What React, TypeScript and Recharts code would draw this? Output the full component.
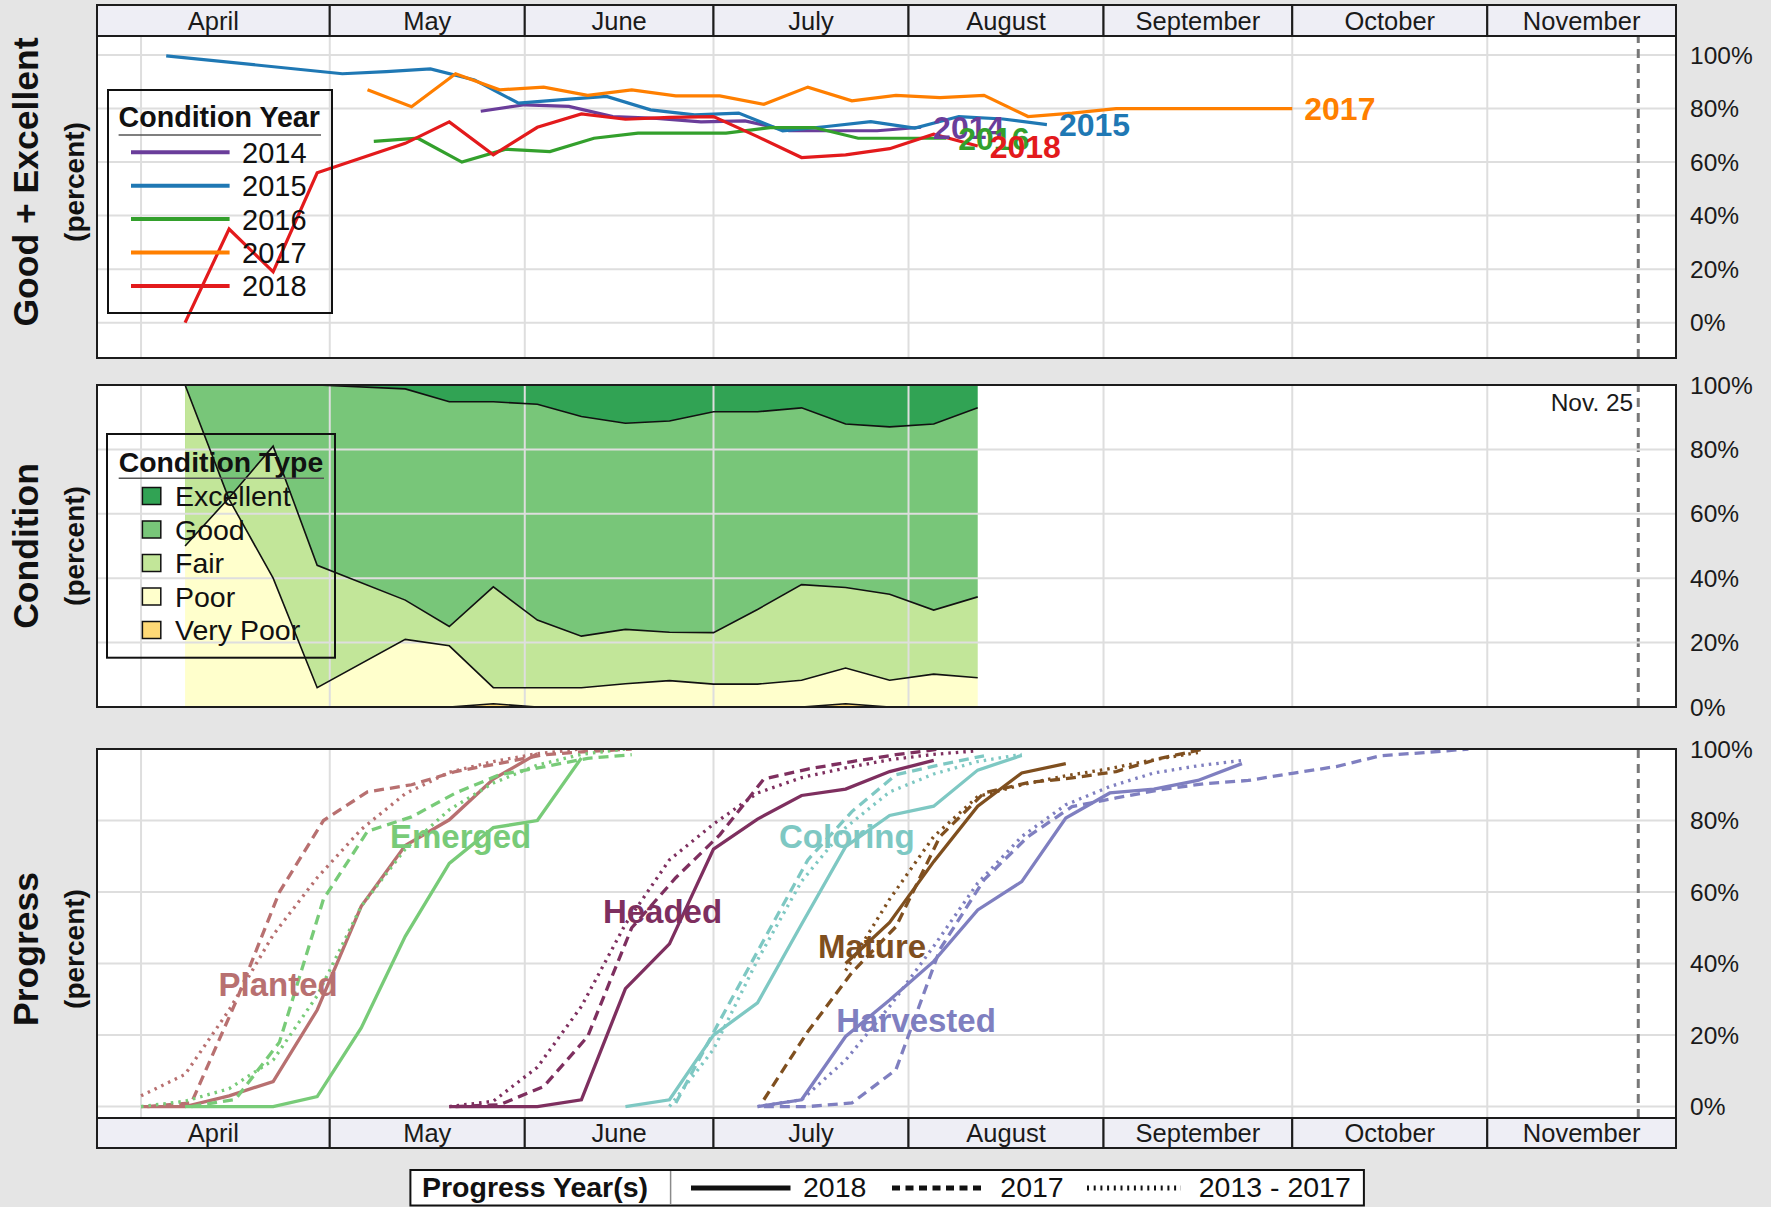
import React from 'react';
import {
  ComposedChart,
  Line,
  Area,
  XAxis,
  YAxis,
  ReferenceLine,
  ReferenceArea,
  ReferenceDot,
  LabelList,
} from 'recharts';

// ---------- helpers ----------
const CUM = [0, 31, 59, 90, 120, 151, 181, 212, 243, 273, 304, 334];
const doy = (md: string) => {
  const [m, d] = md.split('-').map(Number);
  return CUM[m - 1] + d;
};

// ---------- axis / categories ----------
const months = ['April', 'May', 'June', 'July', 'August', 'September', 'October', 'November'];
const monthStarts = ['04-01', '05-01', '06-01', '07-01', '08-01', '09-01', '10-01', '11-01', '12-01'];
const percentTicks = [0, 20, 40, 60, 80, 100];
const axisStart = '03-25';
const axisEnd = '12-01';
const referenceDate = '11-25';
const referenceLabel = 'Nov. 25';

// ---------- panel 1 : Good + Excellent by year ----------
const cond2014Dates = ['05-25', '06-01', '06-08', '06-15', '06-22', '06-29', '07-06', '07-13', '07-20', '07-27', '08-03'];
const cond2014 = [79, 81.4, 80.8, 77, 76.3, 75, 75.4, 71.7, 71.7, 71.7, 73];

const cond2015Dates = ['04-05', '05-03', '05-10', '05-17', '05-24', '05-31', '06-07', '06-14', '06-21', '06-28', '07-05', '07-12', '07-19', '07-26', '08-02', '08-09', '08-16', '08-23'];
const cond2015 = [99.7, 93, 93.8, 94.8, 90.7, 82, 83.3, 84.5, 79.5, 77.6, 78.3, 71.7, 73.3, 75.1, 72.7, 77, 76.1, 74];

const cond2016Dates = ['05-08', '05-15', '05-22', '05-29', '06-05', '06-12', '06-19', '06-26', '07-03', '07-10', '07-17', '07-24', '07-31', '08-07'];
const cond2016 = [67.7, 68.9, 60, 64.8, 63.9, 68.9, 70.8, 70.8, 70.8, 72.9, 72.9, 68.9, 68.9, 68.9];

const cond2017Dates = ['05-07', '05-14', '05-21', '05-28', '06-04', '06-11', '06-18', '06-25', '07-02', '07-09', '07-16', '07-23', '07-30', '08-06', '08-13', '08-20', '08-27', '09-03', '09-10', '09-17', '09-24', '10-01'];
const cond2017 = [87, 80.7, 93, 87, 88, 84.9, 87, 84.7, 84.7, 81.6, 88, 82.9, 84.9, 84.1, 84.9, 77, 78.3, 80, 80, 80, 80, 80];

const cond2018Dates = ['04-08', '04-15', '04-22', '04-29', '05-13', '05-20', '05-27', '06-03', '06-10', '06-17', '06-24', '07-01', '07-08', '07-15', '07-22', '07-29', '08-05', '08-12'];
const cond2018 = [0, 35, 19, 56, 67, 75, 62.7, 73, 78, 76, 76.7, 77, 69.5, 61.7, 62.7, 65, 70.4, 66];

const conditionYears = ['2014', '2015', '2016', '2017', '2018'];
const conditionYearColors = ['#6a3d9a', '#1f78b4', '#33a02c', '#ff7f00', '#e31a1c'];

// ---------- panel 2 : 2018 condition (cumulative upper edges, percent) ----------
const veryPoorTop = [0, 0, 0, 0, 0, 0, 1, 0, 0, 0, 0, 0, 0, 0, 1, 0, 0, 0];
const poorTop = [100, 64.5, 40, 6, 21, 19, 6, 6, 6, 7.2, 8.2, 7.1, 7.1, 8.3, 12.1, 8.3, 10.2, 9.1];
const fairTop = [50, 65, 81, 44, 33.2, 25, 37.3, 27, 22, 24.1, 23.2, 23.1, 30.3, 38, 37.1, 35, 30.1, 34.2];
const goodTop = [100, 100, 100, 100, 98.8, 94.8, 94.8, 94, 90.2, 88.1, 88.8, 91.7, 91.7, 92.9, 87.9, 87, 87.9, 92.9];

const conditionTypes = ['Excellent', 'Good', 'Fair', 'Poor', 'Very Poor'];
const conditionTypeColors = ['#31a354', '#78c679', '#c2e699', '#ffffcc', '#fed976'];

// ---------- panel 3 : progress ----------
const planted2018Dates = ['04-01', '04-08', '04-15', '04-22', '04-29', '05-06', '05-13', '05-20', '05-27', '06-03'];
const planted2018 = [0, 0, 3, 7, 27, 56, 73, 80.2, 91.6, 98.7];
const planted2017Dates = ['04-02', '04-09', '04-16', '04-23', '04-30', '05-07', '05-14', '05-21', '05-28', '06-04', '06-11', '06-18'];
const planted2017 = [0, 1, 29, 60, 80, 88, 90, 93.7, 96, 98.4, 99.3, 100];
const plantedAvgDates = ['04-01', '04-08', '04-15', '04-22', '04-29', '05-06', '05-13', '05-20', '05-27', '06-03', '06-10'];
const plantedAvg = [3, 9, 27, 48, 64, 77.5, 87.5, 93.5, 96.5, 98.7, 100];

const emerged2018Dates = ['04-08', '04-15', '04-22', '04-29', '05-06', '05-13', '05-20', '05-27', '06-03', '06-10'];
const emerged2018 = [0, 0, 0, 2.8, 22, 47.6, 68, 78, 80, 97.5];
const emerged2017Dates = ['04-09', '04-16', '04-23', '04-30', '05-07', '05-14', '05-21', '05-28', '06-04', '06-11', '06-18'];
const emerged2017 = [0, 2, 18, 58, 77, 81, 87.7, 92.8, 95, 97.4, 98.4];
const emergedAvgDates = ['04-01', '04-08', '04-15', '04-22', '04-29', '05-06', '05-13', '05-20', '05-27', '06-03', '06-10', '06-17'];
const emergedAvg = [0, 1.5, 5, 13, 31, 56, 72, 83, 90.5, 95.5, 98.5, 100];

const headed2018Dates = ['05-20', '05-27', '06-03', '06-10', '06-17', '06-24', '07-01', '07-08', '07-15', '07-22', '07-29', '08-05'];
const headed2018 = [0, 0, 0, 1.9, 33, 45.5, 72, 80.4, 87, 88.8, 93.7, 96.8];
const headed2017Dates = ['05-21', '05-28', '06-04', '06-11', '06-18', '06-25', '07-02', '07-09', '07-16', '07-23', '07-30', '08-06'];
const headed2017 = [0, 0.5, 5.6, 19.6, 50, 64, 76, 91.6, 94.4, 96.5, 98.4, 100];
const headedAvgDates = ['05-20', '05-27', '06-03', '06-10', '06-17', '06-24', '07-01', '07-08', '07-15', '07-22', '07-29', '08-05', '08-12'];
const headedAvg = [0, 1.5, 11, 28, 51, 69, 79, 87.7, 92, 94.7, 97, 98.5, 99.5];

const coloring2018Dates = ['06-17', '06-24', '07-01', '07-08', '07-15', '07-22', '07-29', '08-05', '08-12', '08-19'];
const coloring2018 = [0, 1.9, 20, 29, 51, 72.7, 81.4, 84, 94.1, 98.2];
const coloring2017Dates = ['06-25', '07-02', '07-09', '07-16', '07-23', '07-30', '08-06', '08-13'];
const coloring2017 = [1, 24, 46.6, 69, 82.5, 92.8, 95.6, 98.1];
const coloringAvgDates = ['06-24', '07-01', '07-08', '07-15', '07-22', '07-29', '08-05', '08-12', '08-19'];
const coloringAvg = [0, 16, 41, 63, 78, 88, 93, 96.5, 98.5];

const mature2018Dates = ['07-22', '07-29', '08-05', '08-12', '08-19', '08-26'];
const mature2018 = [40, 51.5, 68.5, 84, 93.3, 95.9];
const mature2017Dates = ['07-09', '07-16', '07-23', '07-30', '08-06', '08-13', '08-20', '08-27', '09-03', '09-10', '09-17'];
const mature2017 = [1.9, 21, 37.5, 50.3, 75.5, 87.7, 90.6, 91.9, 93.7, 97.4, 100];
const matureAvgDates = ['07-22', '07-29', '08-05', '08-12', '08-19', '08-26', '09-02', '09-09', '09-16'];
const matureAvg = [38, 58, 75.5, 86.7, 90, 92.5, 94.5, 97, 99];

const harvested2018Dates = ['07-08', '07-15', '07-22', '07-29', '08-05', '08-12', '08-19', '08-26', '09-02', '09-09', '09-16', '09-23'];
const harvested2018 = [0, 1.9, 19.6, 29.8, 40.6, 55, 62.9, 80.7, 87.7, 88.8, 91.2, 95.9];
const harvested2017Dates = ['07-09', '07-16', '07-23', '07-30', '08-06', '08-13', '08-20', '08-27', '09-03', '09-10', '09-17', '09-24', '10-01', '10-08', '10-15', '10-22', '10-29'];
const harvested2017 = [0, 0, 1, 10.3, 44, 63.4, 75.5, 83.9, 86.3, 88.6, 90.3, 91.2, 93.2, 95.1, 98.1, 99, 100];
const harvestedAvgDates = ['07-08', '07-15', '07-22', '07-29', '08-05', '08-12', '08-19', '08-26', '09-02', '09-09', '09-16', '09-23'];
const harvestedAvg = [0, 1.9, 13, 28, 44.8, 62.5, 75.5, 84.4, 89.5, 93.3, 95.3, 96.8];

const stages = ['Planted', 'Emerged', 'Headed', 'Coloring', 'Mature', 'Harvested'];
const stageColors = ['#b87070', '#78cb78', '#7e2f5f', '#7ec8c3', '#7f4f1f', '#7f7fc0'];
// annotation anchors (day of year, percent) for the stage names
const stageLabelDays = [112.8, 141.8, 173.9, 203.2, 207.2, 214.2];
const stageLabelValues = [34.3, 75.5, 54.7, 75.5, 44.8, 24.3];

const progressYears = ['2018', '2017', '2013 - 2017'];

// ---------- layout ----------
const FONT = '"Liberation Sans", Arial, Helvetica, sans-serif';
const W = 1771;
const H = 1207;
const PLOT_LEFT = 97;
const PLOT_RIGHT = 1676;
const YAXIS_W = 80;
const PAD = 18;
const X_MIN = doy(axisStart);
const X_MAX = doy(axisEnd);
const REF_X = doy(referenceDate);

const P1 = { top: 36, h: 322, domain: [-13.2, 107.1] as [number, number] };
const P2 = { top: 385, h: 322, domain: [0, 100] as [number, number] };
const P3 = { top: 749, h: 369, domain: [-3.2, 100] as [number, number] };

const GRID = '#dedede';
const BORDER = '#1c1c1c';

const toSeries = (dates: string[], vals: number[]) => dates.map((d, i) => ({ day: doy(d), v: vals[i] }));

const conditionSeries = [
  toSeries(cond2014Dates, cond2014),
  toSeries(cond2015Dates, cond2015),
  toSeries(cond2016Dates, cond2016),
  toSeries(cond2017Dates, cond2017),
  toSeries(cond2018Dates, cond2018),
];

const conditionRows = cond2018Dates.map((d, i) => ({
  day: doy(d),
  vpTop: veryPoorTop[i],
  poorTop: poorTop[i],
  fairTop: fairTop[i],
  goodTop: goodTop[i],
  veryPoorBand: [0, veryPoorTop[i]],
  poorBand: [veryPoorTop[i], poorTop[i]],
  fairBand: [poorTop[i], fairTop[i]],
  goodBand: [fairTop[i], goodTop[i]],
  excellentBand: [goodTop[i], 100],
}));

const progressSeries = [
  { stage: 0, style: 'dotted', data: toSeries(plantedAvgDates, plantedAvg) },
  { stage: 0, style: 'dashed', data: toSeries(planted2017Dates, planted2017) },
  { stage: 0, style: 'solid', data: toSeries(planted2018Dates, planted2018) },
  { stage: 1, style: 'dotted', data: toSeries(emergedAvgDates, emergedAvg) },
  { stage: 1, style: 'dashed', data: toSeries(emerged2017Dates, emerged2017) },
  { stage: 1, style: 'solid', data: toSeries(emerged2018Dates, emerged2018) },
  { stage: 2, style: 'dotted', data: toSeries(headedAvgDates, headedAvg) },
  { stage: 2, style: 'dashed', data: toSeries(headed2017Dates, headed2017) },
  { stage: 2, style: 'solid', data: toSeries(headed2018Dates, headed2018) },
  { stage: 3, style: 'dotted', data: toSeries(coloringAvgDates, coloringAvg) },
  { stage: 3, style: 'dashed', data: toSeries(coloring2017Dates, coloring2017) },
  { stage: 3, style: 'solid', data: toSeries(coloring2018Dates, coloring2018) },
  { stage: 4, style: 'dotted', data: toSeries(matureAvgDates, matureAvg) },
  { stage: 4, style: 'dashed', data: toSeries(mature2017Dates, mature2017) },
  { stage: 4, style: 'solid', data: toSeries(mature2018Dates, mature2018) },
  { stage: 5, style: 'dotted', data: toSeries(harvestedAvgDates, harvestedAvg) },
  { stage: 5, style: 'dashed', data: toSeries(harvested2017Dates, harvested2017) },
  { stage: 5, style: 'solid', data: toSeries(harvested2018Dates, harvested2018) },
];

const DASH: Record<string, string | undefined> = { solid: undefined, dashed: '10 6', dotted: '2.5 5' };

// ---------- shared pieces ----------
const xAxisEl = (
  <XAxis type="number" dataKey="day" domain={[X_MIN, X_MAX]} hide allowDataOverflow />
);

const yAxisEl = (domain: [number, number]) => (
  <YAxis
    orientation="right"
    type="number"
    domain={domain}
    allowDataOverflow
    ticks={percentTicks}
    interval={0}
    tickFormatter={(v: number) => `${v}%`}
    width={YAXIS_W}
    axisLine={false}
    tickLine={false}
    tickSize={0}
    tickMargin={14}
    tick={{ fontSize: 24.5, fill: '#1a1a1a', fontFamily: FONT }}
  />
);

const background = (domain: [number, number]) => (
  <ReferenceArea
    x1={X_MIN}
    x2={X_MAX}
    y1={domain[0]}
    y2={domain[1]}
    fill="#ffffff"
    fillOpacity={1}
    stroke="none"
    zIndex={-300}
  />
);

const frame = (domain: [number, number]) => (
  <ReferenceArea
    x1={X_MIN}
    x2={X_MAX}
    y1={domain[0]}
    y2={domain[1]}
    fill="none"
    fillOpacity={0}
    stroke={BORDER}
    strokeWidth={2}
    zIndex={1500}
  />
);

const gridLines = (z: number) => [
  ...monthStarts.slice(0, 8).map((m) => (
    <ReferenceLine key={`gv${m}`} x={doy(m)} stroke={GRID} strokeWidth={2} zIndex={z} />
  )),
  ...percentTicks.map((t) => (
    <ReferenceLine key={`gh${t}`} y={t} stroke={GRID} strokeWidth={2} zIndex={z} />
  )),
];

const refLine = (withLabel: boolean) => (
  <ReferenceLine
    x={REF_X}
    stroke="#787878"
    strokeWidth={3}
    strokeDasharray="9 6"
    zIndex={-100}
    label={
      withLabel
        ? (p: any) => {
            const vb = p.viewBox || {};
            return (
              <text
                x={(vb.x ?? 0) - 5}
                y={(vb.y ?? 0) + 17}
                dy="0.36em"
                textAnchor="end"
                fontSize={24.5}
                fontFamily={FONT}
                fill="#1a1a1a"
              >
                {referenceLabel}
              </text>
            );
          }
        : undefined
    }
  />
);

function MonthStrip({ top, height }: { top: number; height: number }) {
  const data = [
    { day: X_MIN, y: 0.5 },
    { day: X_MAX, y: 0.5 },
  ];
  return (
    <div style={{ position: 'absolute', left: 0, top: top - 2 }}>
      <ComposedChart
        width={W}
        height={height + 4}
        data={data}
        margin={{ top: 2, bottom: 2, left: PLOT_LEFT, right: W - PLOT_RIGHT }}
      >
        {xAxisEl}
        <YAxis type="number" domain={[0, 1]} hide allowDataOverflow />
        <Line dataKey="y" stroke="none" dot={false} isAnimationActive={false} />
        {months.map((m, i) => (
          <ReferenceArea
            key={m}
            x1={i === 0 ? X_MIN : doy(monthStarts[i])}
            x2={i === months.length - 1 ? X_MAX : doy(monthStarts[i + 1])}
            y1={0}
            y2={1}
            fill="#eeeef5"
            fillOpacity={1}
            stroke={BORDER}
            strokeWidth={2}
            label={{ value: m, position: 'center', fontSize: 25.5, fill: '#1a1a1a', fontFamily: FONT }}
          />
        ))}
      </ComposedChart>
    </div>
  );
}

function ConditionYearPanel() {
  return (
    <div style={{ position: 'absolute', left: 0, top: P1.top - PAD }}>
      <ComposedChart
        width={W}
        height={P1.h + 2 * PAD}
        margin={{ top: PAD, bottom: PAD, left: PLOT_LEFT, right: W - PLOT_RIGHT - YAXIS_W }}
      >
        {xAxisEl}
        {yAxisEl(P1.domain)}
        {background(P1.domain)}
        {gridLines(-200)}
        {refLine(false)}
        {conditionSeries.map((data, i) => (
          <Line
            key={conditionYears[i]}
            data={data}
            dataKey="v"
            type="linear"
            stroke={conditionYearColors[i]}
            strokeWidth={3.2}
            dot={false}
            activeDot={false}
            isAnimationActive={false}
          >
            <LabelList
              dataKey="v"
              content={(p: any) =>
                p.index === data.length - 1 ? (
                  <text
                    x={Number(p.x) + 12}
                    y={Number(p.y)}
                    dy="0.36em"
                    fontSize={32}
                    fontWeight="bold"
                    fontFamily={FONT}
                    fill={conditionYearColors[i]}
                  >
                    {conditionYears[i]}
                  </text>
                ) : null
              }
            />
          </Line>
        ))}
        {frame(P1.domain)}
      </ComposedChart>
    </div>
  );
}

function ConditionTypePanel() {
  const bands = [
    { key: 'poorBand', color: conditionTypeColors[3] },
    { key: 'goodBand', color: conditionTypeColors[1] },
    { key: 'excellentBand', color: conditionTypeColors[0] },
    { key: 'fairBand', color: conditionTypeColors[2] },
    { key: 'veryPoorBand', color: conditionTypeColors[4] },
  ];
  const edges = ['vpTop', 'poorTop', 'fairTop', 'goodTop'];
  return (
    <div style={{ position: 'absolute', left: 0, top: P2.top - PAD }}>
      <ComposedChart
        width={W}
        height={P2.h + 2 * PAD}
        data={conditionRows}
        margin={{ top: PAD, bottom: PAD, left: PLOT_LEFT, right: W - PLOT_RIGHT - YAXIS_W }}
      >
        {xAxisEl}
        {yAxisEl(P2.domain)}
        {background(P2.domain)}
        {bands.map((b) => (
          <Area
            key={b.key}
            dataKey={b.key}
            type="linear"
            fill={b.color}
            fillOpacity={1}
            stroke="none"
            dot={false}
            activeDot={false}
            isAnimationActive={false}
          />
        ))}
        {gridLines(150)}
        {refLine(true)}
        {edges.map((e) => (
          <Line
            key={e}
            dataKey={e}
            type="linear"
            stroke="#111111"
            strokeWidth={1.6}
            dot={false}
            activeDot={false}
            isAnimationActive={false}
          />
        ))}
        {frame(P2.domain)}
      </ComposedChart>
    </div>
  );
}

function ProgressPanel() {
  return (
    <div style={{ position: 'absolute', left: 0, top: P3.top - PAD }}>
      <ComposedChart
        width={W}
        height={P3.h + 2 * PAD}
        margin={{ top: PAD, bottom: PAD, left: PLOT_LEFT, right: W - PLOT_RIGHT - YAXIS_W }}
      >
        {xAxisEl}
        {yAxisEl(P3.domain)}
        {background(P3.domain)}
        {gridLines(-200)}
        {refLine(false)}
        {progressSeries.map((s, i) => (
          <Line
            key={`p${i}`}
            data={s.data}
            dataKey="v"
            type="linear"
            stroke={stageColors[s.stage]}
            strokeWidth={3.3}
            strokeDasharray={DASH[s.style]}
            dot={false}
            activeDot={false}
            isAnimationActive={false}
          />
        ))}
        {stages.map((name, i) => (
          <ReferenceDot
            key={name}
            x={stageLabelDays[i]}
            y={stageLabelValues[i]}
            r={1}
            zIndex={2000}
            shape={(p: any) => (
              <text
                x={p.cx}
                y={p.cy}
                dy="0.36em"
                textAnchor="middle"
                fontSize={33}
                fontWeight="bold"
                fontFamily={FONT}
                fill={stageColors[i]}
              >
                {name}
              </text>
            )}
          />
        ))}
        {frame(P3.domain)}
      </ComposedChart>
    </div>
  );
}

function Overlay() {
  const titles = [
    { main: 'Good + Excellent', cy: 182 },
    { main: 'Condition', cy: 546 },
    { main: 'Progress', cy: 949 },
  ];
  return (
    <svg
      width={W}
      height={H}
      style={{ position: 'absolute', left: 0, top: 0, pointerEvents: 'none' }}
      fontFamily={FONT}
    >
      {titles.map((t) => (
        <g key={t.main}>
          <text
            x={38}
            y={t.cy}
            transform={`rotate(-90 38 ${t.cy})`}
            textAnchor="middle"
            fontSize={35.5}
            fontWeight="bold"
            fill="#111"
          >
            {t.main}
          </text>
          <text
            x={84}
            y={t.cy}
            transform={`rotate(-90 84 ${t.cy})`}
            textAnchor="middle"
            fontSize={28}
            fontWeight="bold"
            fill="#111"
          >
            (percent)
          </text>
        </g>
      ))}

      {/* Condition Year legend */}
      <rect x={108} y={90} width={224} height={223} fill="none" stroke="#111" strokeWidth={2} />
      <text x={118.6} y={126.7} fontSize={28.6} fontWeight="bold" fill="#111">
        Condition Year
      </text>
      <line x1={118.6} x2={321} y1={135} y2={135} stroke="#555" strokeWidth={1.5} />
      {conditionYears.map((y, i) => {
        const cy = 152.3 + i * 33.4;
        return (
          <g key={y}>
            <line x1={131} x2={229.6} y1={cy} y2={cy} stroke={conditionYearColors[i]} strokeWidth={4} />
            <text x={242} y={cy} dy="0.36em" fontSize={29} fill="#111">
              {y}
            </text>
          </g>
        );
      })}

      {/* Condition Type legend */}
      <rect x={107} y={434} width={228} height={223.7} fill="none" stroke="#111" strokeWidth={2} />
      <text x={118.7} y={472} fontSize={28.4} fontWeight="bold" fill="#111">
        Condition Type
      </text>
      <line x1={118.7} x2={324} y1={478.3} y2={478.3} stroke="#555" strokeWidth={1.5} />
      {conditionTypes.map((c, i) => {
        const cy = 496 + i * 33.5;
        return (
          <g key={c}>
            <rect x={142.4} y={cy - 8.5} width={18.4} height={17} fill={conditionTypeColors[i]} stroke="#111" strokeWidth={1.5} />
            <text x={175} y={cy} dy="0.36em" fontSize={28.5} fill="#111">
              {c}
            </text>
          </g>
        );
      })}

      {/* Progress Year(s) legend */}
      <rect x={410.4} y={1170} width={953.5} height={35.5} fill="#ffffff" stroke="#111" strokeWidth={2} />
      <line x1={670.6} x2={670.6} y1={1171} y2={1204.5} stroke="#8a8a8a" strokeWidth={1.5} />
      <text x={422} y={1187} dy="0.36em" fontSize={28.5} fontWeight="bold" fill="#111">
        Progress Year(s)
      </text>
      <line x1={691} x2={790.5} y1={1188} y2={1188} stroke="#111" strokeWidth={5} />
      <text x={803} y={1187} dy="0.36em" fontSize={28.5} fill="#111">
        {progressYears[0]}
      </text>
      <line x1={892} x2={986} y1={1188} y2={1188} stroke="#111" strokeWidth={5} strokeDasharray="8 5.5" />
      <text x={1000.3} y={1187} dy="0.36em" fontSize={28.5} fill="#111">
        {progressYears[1]}
      </text>
      <line x1={1087} x2={1181} y1={1188} y2={1188} stroke="#111" strokeWidth={5} strokeDasharray="2 4.7" />
      <text x={1198.7} y={1187} dy="0.36em" fontSize={28.5} fill="#111">
        {progressYears[2]}
      </text>
    </svg>
  );
}

export default function App() {
  return (
    <div
      style={{
        position: 'absolute',
        left: 0,
        top: 0,
        width: W,
        height: H,
        background: '#e5e5e5',
        overflow: 'hidden',
        fontFamily: FONT,
      }}
    >
      <ConditionYearPanel />
      <ConditionTypePanel />
      <ProgressPanel />
      <MonthStrip top={5} height={31} />
      <MonthStrip top={1118} height={30} />
      <Overlay />
    </div>
  );
}
